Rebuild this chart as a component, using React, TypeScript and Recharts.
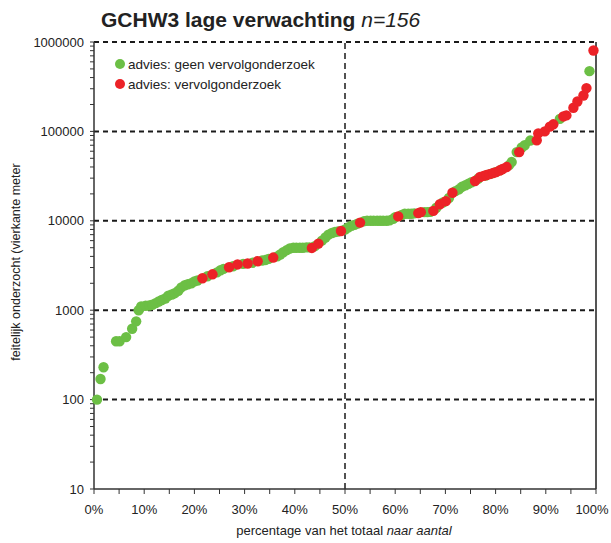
import React from 'react';
import {
  ScatterChart,
  Scatter,
  XAxis,
  YAxis,
  ReferenceLine,
} from 'recharts';

// green = advies: geen vervolgonderzoek
const greenPct = [
  0.6, 1.3, 1.9, 4.4, 5.1, 6.4, 7.6, 8.4, 8.9, 9.4, 10.3, 11.0, 11.6, 12.3, 12.9,
  13.5, 14.2, 14.8, 15.5, 16.1, 16.8, 17.4, 18.1, 18.7, 19.4, 20.0, 20.6, 22.6,
  24.5, 25.2, 25.8, 27.7, 29.7, 31.6, 33.5, 34.2, 34.8, 36.5, 37.1, 37.7, 38.4,
  39.0, 39.7, 40.3, 41.0, 41.6, 42.3, 42.9, 44.0, 45.4, 46.1, 46.7, 47.4, 48.0,
  48.6, 50.0, 50.6, 51.3, 51.9, 52.5, 53.8, 54.4, 55.1, 55.7, 56.4, 57.0, 57.6,
  58.3, 58.9, 59.6, 60.0, 61.3, 61.9, 62.6, 63.2, 63.8, 65.8, 66.4, 67.0, 68.2,
  69.5, 70.7, 72.0, 72.7, 73.3, 74.0, 74.6, 75.2, 76.5, 78.0, 79.0, 80.0, 81.0,
  82.7, 83.2, 84.2, 85.2, 85.8, 86.9, 92.8, 98.7,
];
const greenVal = [
  100, 170, 230, 450, 450, 500, 620, 750, 1000, 1100, 1120, 1130, 1150, 1200, 1250,
  1300, 1350, 1450, 1500, 1550, 1650, 1800, 1900, 1950, 2000, 2100, 2150, 2400,
  2650, 2800, 2900, 3100, 3300, 3400, 3600, 3650, 3750, 4000, 4200, 4450, 4700,
  4900, 5000, 5000, 5000, 5000, 5050, 5050, 5200, 6000, 6500, 7000, 7300, 7500,
  7600, 8000, 8400, 8800, 9000, 9300, 9900, 10000, 10000, 10000, 10000, 10000, 10000,
  10000, 10100, 10500, 11000, 11600, 12000, 12000, 12000, 12100, 12500, 12500, 12600, 14000,
  16000, 18000, 21500, 22500, 24000, 25000, 26000, 27000, 29500, 32000, 33500, 35000, 37000,
  42000, 45400, 58700, 66000, 70000, 79000, 138000, 472000,
];

// red = advies: vervolgonderzoek
const redPct = [
  21.6, 23.6, 26.9, 28.6, 30.6, 32.6, 35.7, 43.4, 44.7, 49.2, 53.0, 60.6, 64.6,
  65.1, 67.6, 68.9, 70.1, 71.4, 75.9, 76.9, 77.6, 78.2, 78.8, 79.5, 80.1, 80.8,
  81.4, 82.2, 84.7, 88.2, 88.5, 89.8, 90.8, 91.5, 93.5, 94.1, 95.5, 96.3, 97.5,
  98.1, 99.5,
];
const redVal = [
  2275, 2520, 3020, 3250, 3330, 3530, 3880, 4970, 5560, 7690, 9550, 11200, 12200,
  12500, 12900, 15300, 16600, 20600, 27900, 30900, 31800, 32500, 33300, 34200, 35000, 36500,
  38000, 39900, 58700, 79400, 95000, 100000, 113000, 120000, 147000, 151000, 184000, 216000, 252000,
  305000, 804000,
];

const xTicks = [0, 5, 10, 15, 20, 25, 30, 35, 40, 45, 50, 55, 60, 65, 70, 75, 80, 85, 90, 95, 100];
const yMajor = [10, 100, 1000, 10000, 100000, 1000000];
const yTicks = [
  ...yMajor,
  ...[10, 100, 1000, 10000, 100000].flatMap((d) => [2, 3, 4, 5, 6, 7, 8, 9].map((k) => k * d)),
].sort((a, b) => a - b);

const GREEN = '#6cbf45';
const RED = '#ec2227';
const FONT = '"Liberation Sans", Arial, sans-serif';

const greenData = greenPct.map((p, i) => ({ pct: p, val: greenVal[i] }));
const redData = redPct.map((p, i) => ({ pct: p, val: redVal[i] }));

const dot = (color: string) => (props: any) => (
  <circle cx={props.cx} cy={props.cy} r={5.2} fill={color} />
);

function XTick(props: any) {
  const { x, y, payload } = props;
  const v = payload.value as number;
  if (v % 10 !== 0) return null;
  return (
    <text
      x={v === 100 ? x - 4 : x}
      y={y}
      dy="0.71em"
      textAnchor="middle"
      fill="#222"
      fontSize={13}
      fontFamily={FONT}
    >
      {`${v}%`}
    </text>
  );
}

function LegendBox() {
  const row = (color: string, text: string) => (
    <div style={{ display: 'flex', alignItems: 'center', height: 20 }}>
      <span
        style={{
          width: 10,
          height: 10,
          borderRadius: 5,
          background: color,
          display: 'inline-block',
          marginRight: 3,
        }}
      />
      <span style={{ fontSize: 13.5, color: '#222' }}>{text}</span>
    </div>
  );
  return (
    <div style={{ position: 'absolute', left: 115, top: 54, fontFamily: FONT }}>
      {row(GREEN, 'advies: geen vervolgonderzoek')}
      {row(RED, 'advies: vervolgonderzoek')}
    </div>
  );
}

export default function App() {
  const gridDash = '5 4';
  return (
    <div
      style={{
        position: 'absolute',
        left: 0,
        top: 0,
        width: 611,
        height: 543,
        background: '#fff',
        fontFamily: FONT,
      }}
    >
      <div
        style={{
          position: 'absolute',
          left: 101,
          top: 8,
          fontSize: 21,
          color: '#222',
          whiteSpace: 'nowrap',
        }}
      >
        <b>GCHW3 lage verwachting</b> <i>n=156</i>
      </div>
      <ScatterChart
        width={611}
        height={543}
        margin={{ top: 42, right: 15, bottom: 24, left: 34 }}
      >
        <XAxis
          dataKey="pct"
          type="number"
          domain={[0, 100]}
          ticks={xTicks}
          interval={0}
          tick={<XTick />}
          tickSize={5}
          tickMargin={11}
          height={30}
          stroke="#333"
          axisLine={{ stroke: '#333', strokeWidth: 1.5 }}
        />
        <YAxis
          dataKey="val"
          type="number"
          scale="log"
          domain={[10, 1000000]}
          allowDataOverflow
          ticks={yTicks}
          interval={0}
          tickFormatter={(v: number) => (yMajor.includes(v) ? String(v) : '')}
          tick={{ fill: '#222', fontSize: 13, fontFamily: FONT }}
          tickSize={4}
          tickMargin={6}
          width={60}
          stroke="#333"
          axisLine={{ stroke: '#333', strokeWidth: 1.5 }}
        />
        {[100, 1000, 10000, 100000, 1000000].map((y) => (
          <ReferenceLine
            key={y}
            y={y}
            stroke="#1a1a1a"
            strokeWidth={2}
            strokeDasharray={gridDash}
          />
        ))}
        <ReferenceLine x={50} stroke="#1a1a1a" strokeWidth={1.5} strokeDasharray="6 4" />
        <ReferenceLine x={100} stroke="#555" strokeWidth={2} />
        <Scatter
          data={greenData}
          fill={GREEN}
          shape={dot(GREEN)}
          isAnimationActive={false}
        />
        <Scatter
          data={redData}
          fill={RED}
          shape={dot(RED)}
          isAnimationActive={false}
        />
      </ScatterChart>
      <LegendBox />
      <div
        style={{
          position: 'absolute',
          left: 16,
          top: 262,
          transform: 'translate(-50%, -50%) rotate(-90deg)',
          fontSize: 12.5,
          color: '#222',
          whiteSpace: 'nowrap',
        }}
      >
        feitelijk onderzocht (vierkante meter
      </div>
      <div
        style={{
          position: 'absolute',
          left: 344,
          top: 530,
          transform: 'translate(-50%, -50%)',
          fontSize: 13,
          color: '#222',
          whiteSpace: 'nowrap',
        }}
      >
        percentage van het totaal <i>naar aantal</i>
      </div>
    </div>
  );
}
